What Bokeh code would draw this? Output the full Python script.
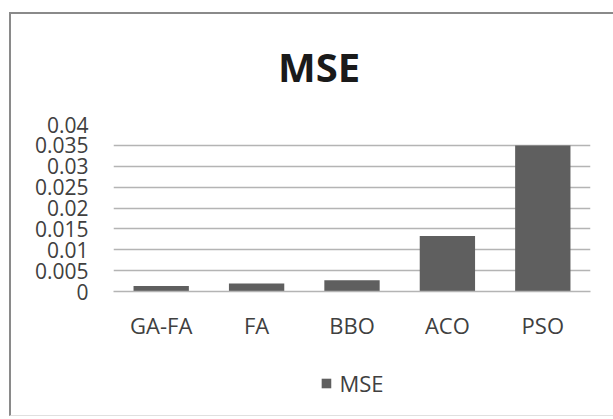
from bokeh.plotting import figure
from bokeh.models import ColumnDataSource, Range1d, FactorRange, Legend, LegendItem, FixedTicker, Div
from bokeh.layouts import column
from bokeh.embed import file_html
from bokeh.resources import INLINE

categories = ["GA-FA", "FA", "BBO", "ACO", "PSO"]
mse_values = [0.0013, 0.0019, 0.0027, 0.0133, 0.035]
y_ticks = [0, 0.005, 0.01, 0.015, 0.02, 0.025, 0.03, 0.035, 0.04]
y_tick_labels = ["0", "0.005", "0.01", "0.015", "0.02", "0.025", "0.03", "0.035", "0.04"]
series_name = "MSE"
chart_title = "MSE"

source = ColumnDataSource(data=dict(cat=categories, val=mse_values))

# title block
title_div = Div(width=595, height=86,
                text=('<div style="display:block;box-sizing:content-box;width:584px;margin:0;'
                      'padding-top:27px;padding-left:11px;text-align:center;'
                      'font-family:\'Open Sans\';font-weight:bold;font-size:40px;line-height:41px;'
                      'color:#1a1a1a;">' + chart_title + '</div>'))

p = figure(x_range=FactorRange(*categories), y_range=Range1d(0, 0.04),
           frame_width=477, frame_height=167, output_backend="svg", toolbar_location=None,
           min_border_left=102, min_border_right=16, min_border_top=14, min_border_bottom=60)
p.outline_line_color = None
p.background_fill_color = "white"
p.border_fill_color = "white"

p.vbar(x="cat", top="val", width=0.58, source=source, fill_color="#5f5f5f", line_color=None)

p.xgrid.grid_line_color = None
p.ygrid.grid_line_color = "#b4b4b4"
p.ygrid.grid_line_width = 1.5

p.yaxis.ticker = FixedTicker(ticks=y_ticks)
p.yaxis.major_label_overrides = {t: l for t, l in zip(y_ticks, y_tick_labels)}
p.yaxis.axis_line_color = None
p.yaxis.major_tick_line_color = None
p.yaxis.minor_tick_line_color = None
p.yaxis.major_label_standoff = 19
p.yaxis.major_label_text_font = "Open Sans"
p.yaxis.major_label_text_font_size = "21px"
p.yaxis.major_label_text_color = "#404040"

p.xaxis.axis_line_color = "#b4b4b4"
p.xaxis.axis_line_width = 1.5
p.xaxis.major_tick_line_color = None
p.xaxis.minor_tick_line_color = None
p.xaxis.major_label_standoff = 12
p.xaxis.major_label_text_font = "Open Sans"
p.xaxis.major_label_text_font_size = "22px"
p.xaxis.major_label_text_color = "#404040"

# legend strip below the chart (same series, bars lie outside this strip's range)
p2 = figure(width=595, height=64, x_range=FactorRange(*categories), y_range=Range1d(1, 2),
            output_backend="svg", toolbar_location=None, x_axis_type=None, y_axis_type=None,
            min_border=0, min_border_left=0, min_border_right=0, min_border_top=0, min_border_bottom=0)
p2.outline_line_color = None
p2.xgrid.grid_line_color = None
p2.ygrid.grid_line_color = None
p2.border_fill_color = "white"
p2.background_fill_color = "white"
r2 = p2.vbar(x="cat", top="val", width=0.58, source=source, fill_color="#5f5f5f", line_color=None)
legend = Legend(items=[LegendItem(label=series_name, renderers=[r2])], orientation="horizontal",
                location="center", border_line_color=None, background_fill_alpha=0,
                label_text_font="Open Sans", label_text_font_size="22px",
                label_text_color="#404040", glyph_width=12, glyph_height=12,
                margin=0, padding=0, label_standoff=8)
p2.add_layout(legend)

lay = column(title_div, p, p2, spacing=0)
lay.styles = {"margin-left": "9px", "margin-top": "12px", "background-color": "white",
              "border-left": "2px solid #8a8a8a", "border-top": "2px solid #8a8a8a",
              "border-right": "1px solid #e0e0e0", "border-bottom": "1px solid #e0e0e0"}

open("out.html", "w").write(file_html(lay, INLINE))
